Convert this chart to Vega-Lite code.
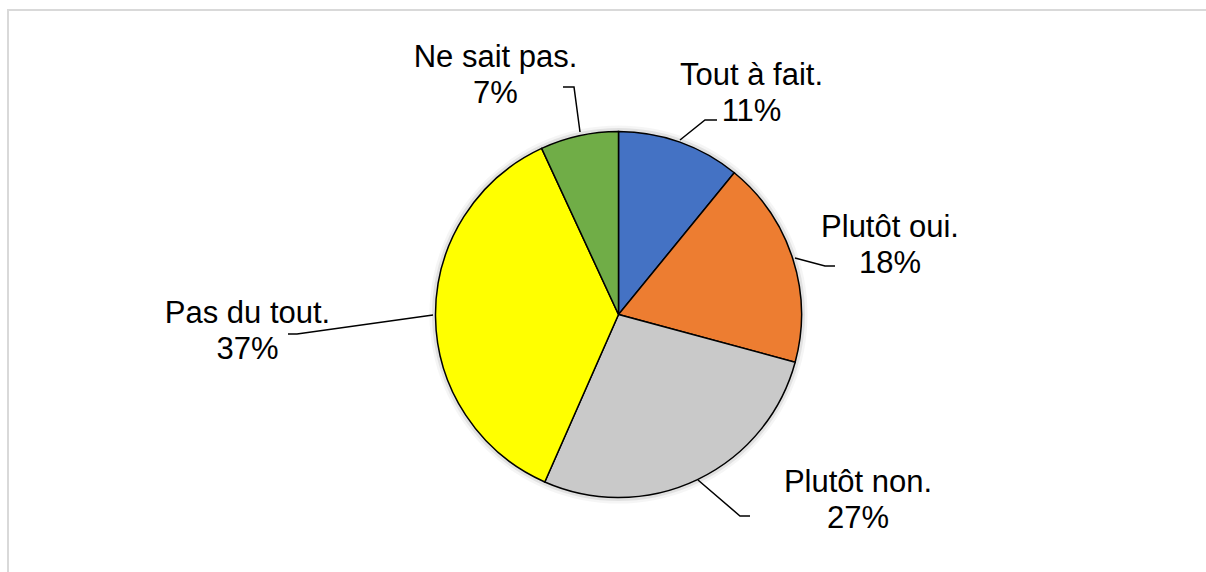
{
  "$schema": "https://vega.github.io/schema/vega-lite/v6.json",
  "width": 1221,
  "height": 609,
  "padding": {"left": 8, "top": 10, "right": 0, "bottom": 0},
  "autosize": {"type": "none"},
  "background": "white",
  "config": {"view": {"stroke": "#D9D9D9", "strokeWidth": 2}},
  "datasets": {
    "slices": [
      {"cat": "Tout à fait.", "pct": 10.9, "o": 1},
      {"cat": "Plutôt oui.", "pct": 18.3, "o": 2},
      {"cat": "Plutôt non.", "pct": 27.4, "o": 3},
      {"cat": "Pas du tout.", "pct": 36.5, "o": 4},
      {"cat": "Ne sait pas.", "pct": 6.9, "o": 5}
    ],
    "whole": [{"pct": 100}],
    "labels": [
      {"label": "Ne sait pas.\n7%", "x": -123, "y": 247.5},
      {"label": "Tout à fait.\n11%", "x": 133, "y": 229.5},
      {"label": "Plutôt oui.\n18%", "x": 271.5, "y": 77.5},
      {"label": "Plutôt non.\n27%", "x": 239.5, "y": -177.5},
      {"label": "Pas du tout.\n37%", "x": -371, "y": -8.5}
    ],
    "leaders": [
      {"g": "ne", "i": 1, "x": -55.5, "y": 227.5},
      {"g": "ne", "i": 2, "x": -44.5, "y": 227.5},
      {"g": "ne", "i": 3, "x": -38.5, "y": 182.5},
      {"g": "tf", "i": 1, "x": 98.5, "y": 194.5},
      {"g": "tf", "i": 2, "x": 86.5, "y": 194.5},
      {"g": "tf", "i": 3, "x": 61.5, "y": 174.5},
      {"g": "po", "i": 1, "x": 216.5, "y": 48.5},
      {"g": "po", "i": 2, "x": 206.5, "y": 48.5},
      {"g": "po", "i": 3, "x": 176.5, "y": 56.5},
      {"g": "pn", "i": 1, "x": 131.5, "y": -201.5},
      {"g": "pn", "i": 2, "x": 121.5, "y": -201.5},
      {"g": "pn", "i": 3, "x": 79.5, "y": -165.5},
      {"g": "pd", "i": 1, "x": -330.5, "y": -19.5},
      {"g": "pd", "i": 2, "x": -321.5, "y": -19.5},
      {"g": "pd", "i": 3, "x": -185.5, "y": -0.5}
    ]
  },
  "layer": [
    {
      "data": {"name": "whole"},
      "mark": {"type": "arc", "radius": 189, "color": "#000000", "opacity": 0.04},
      "encoding": {"theta": {"field": "pct", "type": "quantitative"}}
    },
    {
      "data": {"name": "whole"},
      "mark": {"type": "arc", "radius": 186.5, "color": "#000000", "opacity": 0.08},
      "encoding": {"theta": {"field": "pct", "type": "quantitative"}}
    },
    {
      "data": {"name": "slices"},
      "mark": {"type": "arc", "radius": 183, "stroke": "black", "strokeWidth": 1.5},
      "encoding": {
        "theta": {"field": "pct", "type": "quantitative", "stack": true},
        "order": {"field": "o", "type": "quantitative"},
        "color": {
          "field": "cat",
          "type": "nominal",
          "legend": null,
          "scale": {
            "domain": ["Tout à fait.", "Plutôt oui.", "Plutôt non.", "Pas du tout.", "Ne sait pas."],
            "range": ["#4472C4", "#ED7D31", "#C9C9C9", "#FFFF00", "#70AD47"]
          }
        }
      }
    },
    {
      "data": {"name": "leaders"},
      "mark": {"type": "line", "color": "black", "strokeWidth": 1.5},
      "encoding": {
        "x": {"field": "x", "type": "quantitative", "axis": null, "scale": {"domain": [-610.5, 610.5], "nice": false, "zero": false}},
        "y": {"field": "y", "type": "quantitative", "axis": null, "scale": {"domain": [-304.5, 304.5], "nice": false, "zero": false}},
        "detail": {"field": "g"},
        "order": {"field": "i", "type": "quantitative"}
      }
    },
    {
      "data": {"name": "labels"},
      "mark": {"type": "text", "font": "Liberation Sans", "fontSize": 31, "lineBreak": "\n", "lineHeight": 36, "align": "center", "baseline": "alphabetic", "color": "black"},
      "encoding": {
        "x": {"field": "x", "type": "quantitative"},
        "y": {"field": "y", "type": "quantitative"},
        "text": {"field": "label"}
      }
    }
  ]
}
